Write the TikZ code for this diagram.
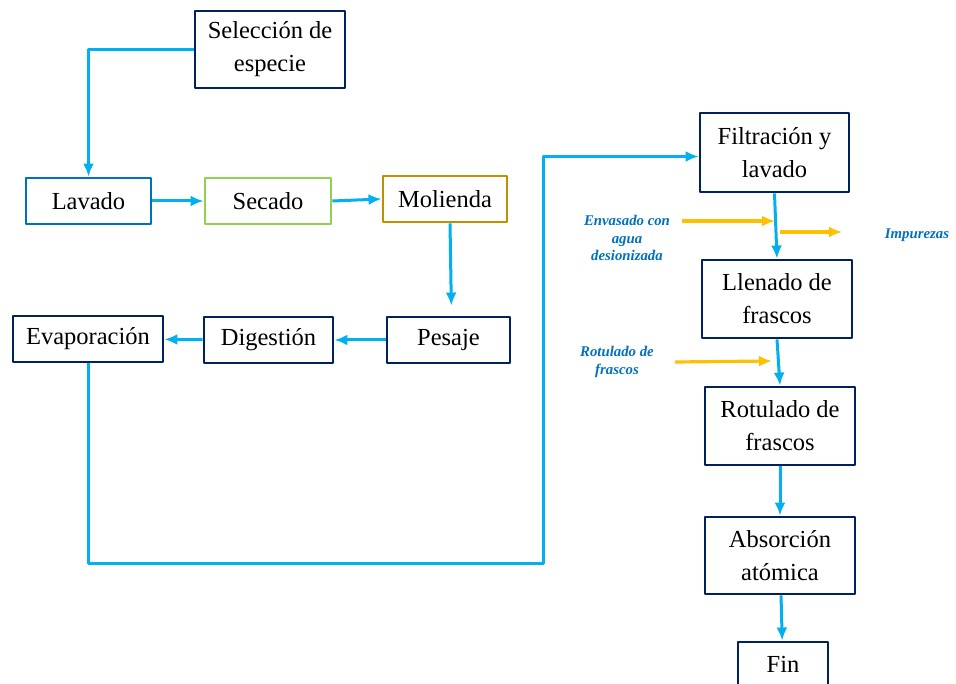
\documentclass[tikz,border=0pt]{standalone}
\usepackage{fontspec}
\usetikzlibrary{arrows.meta}
\setmainfont{Liberation Serif}
\definecolor{azulmarino}{RGB}{0,32,96}
\definecolor{azul}{RGB}{0,112,192}
\definecolor{celeste}{RGB}{0,176,240}
\definecolor{verde}{RGB}{146,208,80}
\definecolor{dorado}{RGB}{191,144,0}
\definecolor{naranja}{RGB}{255,192,0}
\tikzset{
	caja/.style={draw=azulmarino,line width=2.9pt,fill=white,align=center,inner sep=0pt,
		font=\fontsize{24.5}{33}\selectfont,minimum height=46},
	flecha/.style={->,draw=celeste,line width=3pt},
	entrada/.style={->,draw=naranja,line width=3.2pt},
	nota/.style={text=azul,align=center,inner sep=0pt,
		font=\fontsize{14.8}{17.5}\selectfont\bfseries\itshape}
}
\begin{document}
\begin{tikzpicture}[>={Latex[length=13pt,width=11pt]},line join=round,x=1pt,y=-1pt]
			\clip (0,0) rectangle (956,684);
			\fill[white] (0,0) rectangle (956,684);
			% primera parte del proceso
			\node[caja,minimum width=150,minimum height=77] (sel) at (270,49.5) {Selección de\\especie};
			\node[caja,draw=azul,minimum width=125] (lav) at (88.5,201) {Lavado};
			\node[caja,draw=verde,minimum width=126] (sec) at (268,201) {Secado};
			\node[caja,draw=dorado,minimum width=124] (mol) at (445,199) {Molienda};
			\node[caja,minimum width=123] (pes) at (448.5,340) {Pesaje};
			\node[caja,minimum width=129] (dig) at (268.5,340) {Digestión};
			\node[caja,minimum width=150] (eva) at (88,339) {Evaporación};
			% segunda parte
			\node[caja,minimum width=149,minimum height=79] (fil) at (774.5,152.5) {Filtración y\\lavado};
			\node[caja,minimum width=150,minimum height=78] (lle) at (777,299) {Llenado de\\frascos};
			\node[caja,minimum width=150,minimum height=78] (rot) at (780,426) {Rotulado de\\frascos};
			\node[caja,minimum width=150,minimum height=77] (abs) at (780,555.5) {Absorción\\atómica};
			\node[caja,minimum width=90,minimum height=60,text depth=16pt] (fin) at (783,672) {Fin};
			\coordinate (codo) at (543,563);
			\draw[flecha] (sel.west) -| (lav.north);
			\draw[flecha] (lav) -- (sec);
			\draw[flecha] (sec.east) -- (mol.west);
			\draw[flecha,shorten >=10pt] ([xshift=5pt]mol.south) -- ([xshift=3pt]pes.north);
			\draw[flecha] (pes) -- (dig);
			\draw[flecha] (dig) -- (eva);
			\draw[flecha] (eva.south) |- (codo) |- ([yshift=-4pt]fil.west);
			\draw[flecha] (fil.south) -- (lle.north);
			\draw[flecha] (lle.south) -- (rot.north);
			\draw[flecha] (rot) -- (abs);
			\draw[flecha] (abs) -- (fin);
			% entradas y salidas
			\coordinate (agua) at (682,221);
			\coordinate (agua') at (775,221);
			\coordinate (imp) at (780,232);
			\coordinate (imp') at (842,232);
			\coordinate (etq) at (675,362);
			\coordinate (etq') at (772,361);
			\draw[entrada] (agua) -- (agua');
			\draw[entrada] (imp) -- (imp');
			\draw[entrada] (etq) -- (etq');
			\node[nota] (envasado) at (627,238) {Envasado con\\agua\\desionizada};
			\node[nota] (impurezas) at (917,235) {Impurezas};
			\node[nota] (rotulado) at (617,362) {Rotulado de\\frascos};
			\end{tikzpicture}
\end{document}
